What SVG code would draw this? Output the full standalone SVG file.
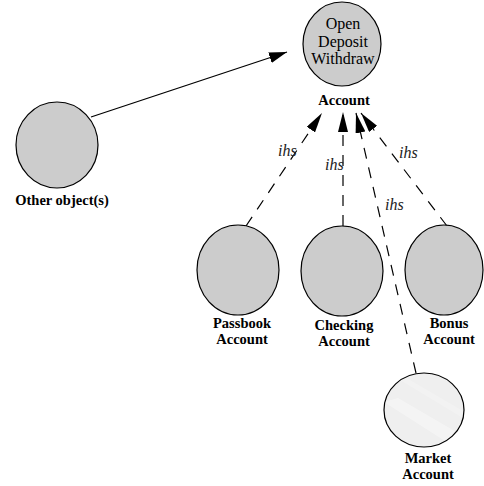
<svg xmlns="http://www.w3.org/2000/svg" width="484" height="486" viewBox="0 0 484 486">
<style>
.node{fill:#cccccc;stroke:#000;stroke-width:1.2}
.lbl{font-family:"Liberation Serif","DejaVu Serif",serif;font-weight:bold;font-size:14.5px;text-anchor:middle;fill:#000}
.ops{font-family:"Liberation Serif","DejaVu Serif",serif;font-size:16px;text-anchor:middle;fill:#000}
.ihs{font-family:"Liberation Serif","DejaVu Serif",serif;font-style:italic;font-size:16px;fill:#222}
.solid{stroke:#000;stroke-width:1.3;fill:none}
.dash{stroke:#000;stroke-width:1.2;fill:none;stroke-dasharray:11,9}
</style>
<defs>
<marker id="ah" viewBox="0 0 18 11" refX="18" refY="5.5" markerWidth="18" markerHeight="11" markerUnits="userSpaceOnUse" orient="auto">
<path d="M0,0 L18,5.5 L0,11 z" fill="#000"/>
</marker>
<marker id="ahd" viewBox="0 0 20 10" refX="20" refY="5" markerWidth="20" markerHeight="10" markerUnits="userSpaceOnUse" orient="auto">
<path d="M0,0 L20,5 L0,10 z" fill="#000"/>
</marker>
<clipPath id="mclip"><ellipse cx="424" cy="410" rx="40" ry="37"/></clipPath>
</defs>
<g id="connectors">
<line class="solid" x1="91" y1="117" x2="287" y2="52" marker-end="url(#ah)"/>
<line class="dash" x1="246" y1="226" x2="322" y2="113" marker-end="url(#ahd)"/>
<line class="dash" x1="343" y1="226" x2="343" y2="112" marker-end="url(#ahd)"/>
<line class="dash" x1="416" y1="373" x2="356" y2="113" marker-end="url(#ahd)"/>
<line class="dash" x1="447" y1="226" x2="361" y2="113" marker-end="url(#ahd)"/>
<text class="ihs" x="278" y="156">ihs</text>
<text class="ihs" x="325" y="170">ihs</text>
<text class="ihs" x="385" y="210">ihs</text>
<text class="ihs" x="399" y="158">ihs</text>
</g>
<g id="account">
<ellipse class="node" cx="342" cy="44" rx="39" ry="42"/>
<text class="ops" x="343" y="29">Open</text>
<text class="ops" x="343" y="46.7">Deposit</text>
<text class="ops" x="343" y="64.4">Withdraw</text>
<text class="lbl" x="344" y="105">Account</text>
</g>
<g id="other">
<ellipse class="node" cx="57" cy="145" rx="41" ry="43"/>
<text class="lbl" x="62" y="205">Other object(s)</text>
</g>
<g id="passbook">
<ellipse class="node" cx="238" cy="270" rx="41" ry="45"/>
<text class="lbl" x="242" y="328">Passbook</text>
<text class="lbl" x="242" y="344">Account</text>
</g>
<g id="checking">
<ellipse class="node" cx="342" cy="271" rx="41" ry="45"/>
<text class="lbl" x="344" y="330">Checking</text>
<text class="lbl" x="344" y="346">Account</text>
</g>
<g id="bonus">
<ellipse class="node" cx="444" cy="270" rx="39" ry="45"/>
<text class="lbl" x="449" y="328">Bonus</text>
<text class="lbl" x="449" y="344">Account</text>
</g>
<g id="market">
<ellipse cx="424" cy="410" rx="40" ry="37" fill="#efefef"/>
<g clip-path="url(#mclip)">
<path d="M384,402 L398,398 L470,440 L456,448 z" fill="#ffffff" opacity="0.35"/>
<path d="M400,380 L405,377 L470,415 L466,420 z" fill="#ffffff" opacity="0.2"/>
</g>
<ellipse cx="424" cy="410" rx="40" ry="37" fill="none" stroke="#000" stroke-width="1.2"/>
<text class="lbl" x="428" y="463">Market</text>
<text class="lbl" x="428" y="479">Account</text>
</g>
</svg>
